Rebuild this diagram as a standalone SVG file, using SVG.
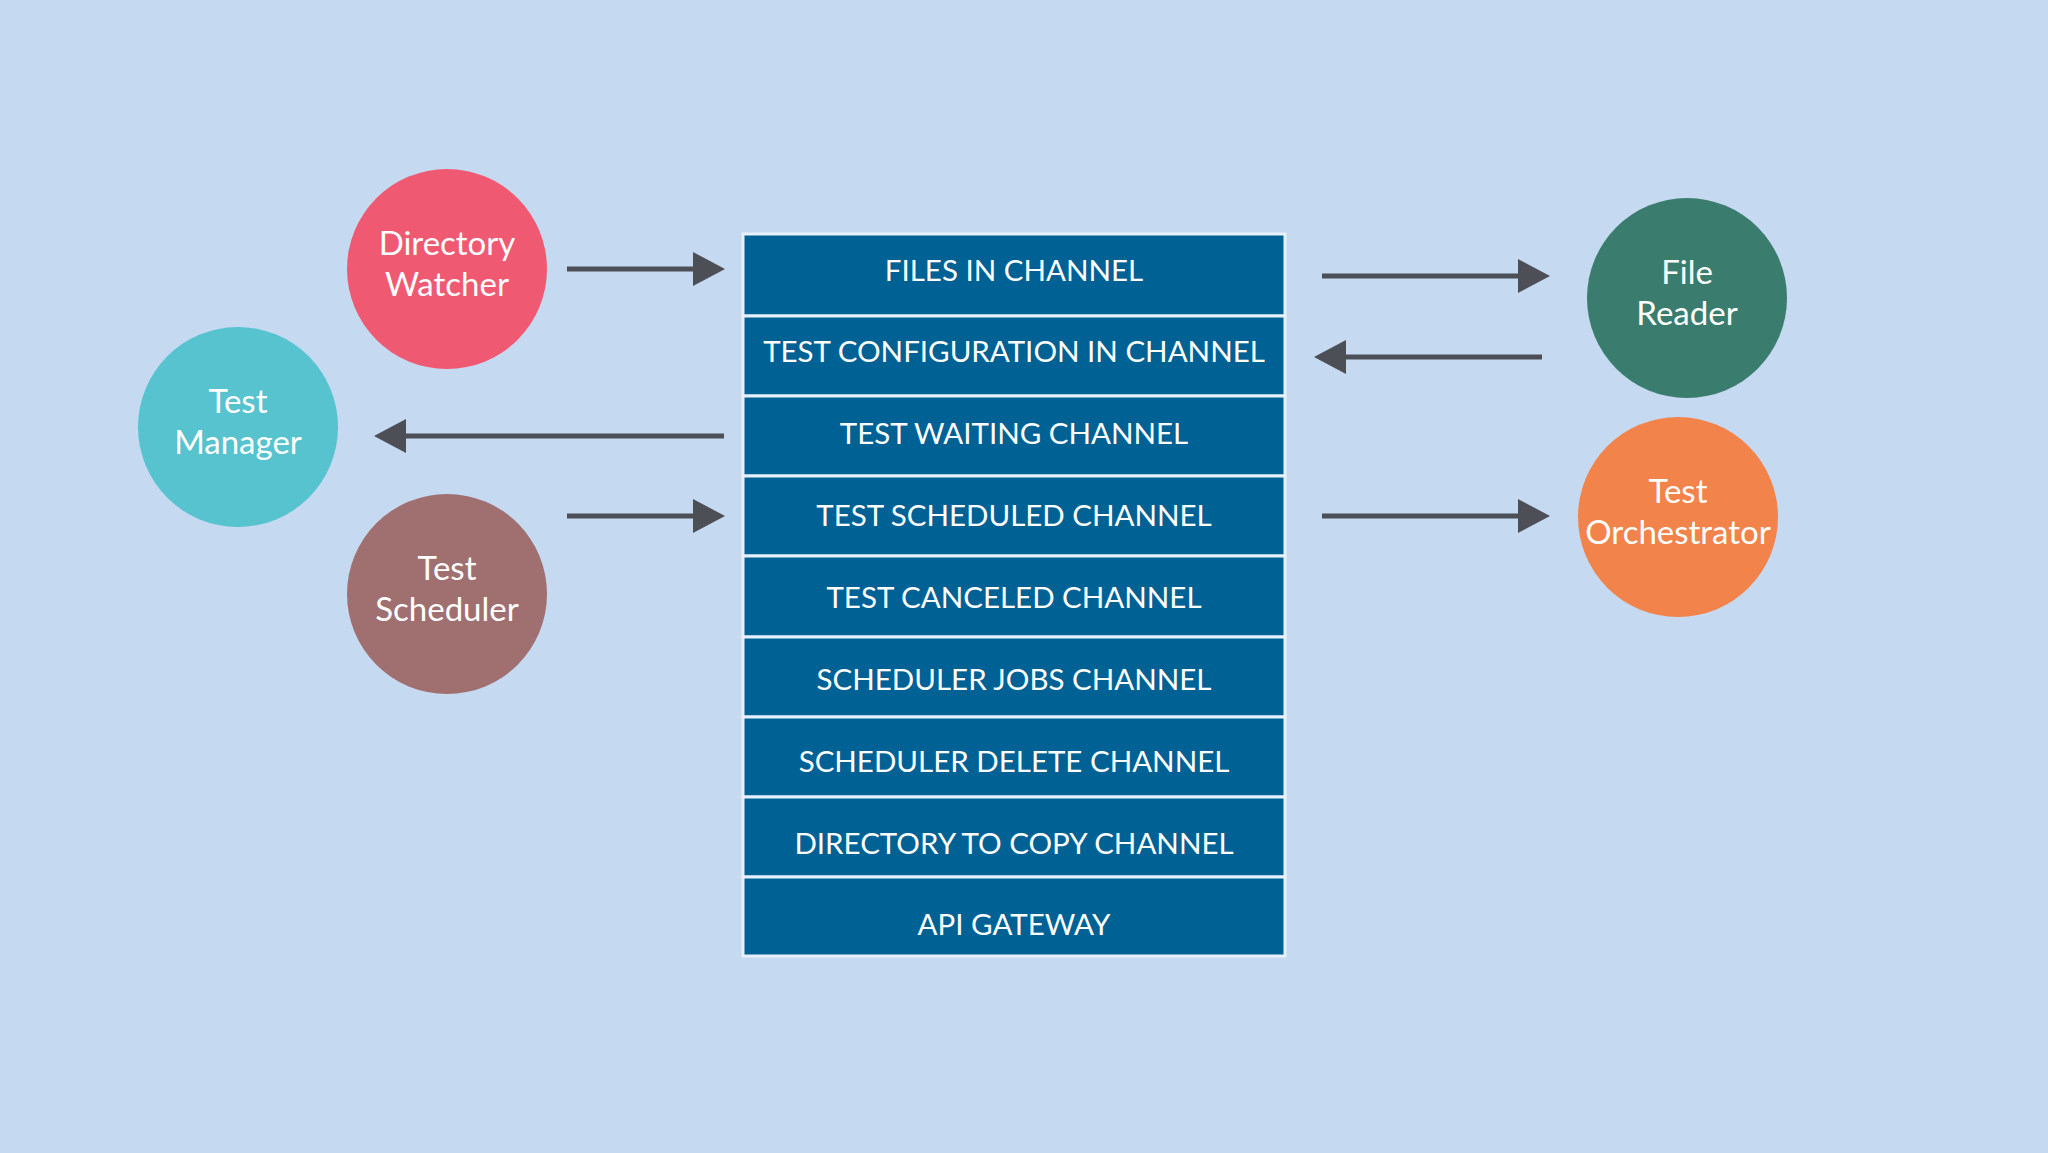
<svg xmlns="http://www.w3.org/2000/svg" width="2048" height="1153" viewBox="0 0 2048 1153">
<defs>
<style>
.row{fill:#006195;stroke:#e8f0fa;stroke-width:3}
.rt{font-family:Lato,"Open Sans",sans-serif;font-size:29.5px;fill:#fff;text-anchor:middle}
.ct{font-family:Lato,"Open Sans",sans-serif;font-size:33px;fill:#fff;text-anchor:middle}
.ar{stroke:#4d4f57;stroke-width:5;fill:none}
.hd{fill:#4d4f57}
</style>
</defs>
<rect width="2048" height="1153" fill="#c5d9f1"/>
<g id="channels">
<rect class="row" x="743" y="234" width="542" height="82"/><text class="rt" x="1014" y="281">FILES IN CHANNEL</text>
<rect class="row" x="743" y="316" width="542" height="80"/><text class="rt" x="1014" y="362">TEST CONFIGURATION IN CHANNEL</text>
<rect class="row" x="743" y="396" width="542" height="80"/><text class="rt" x="1014" y="444">TEST WAITING CHANNEL</text>
<rect class="row" x="743" y="476" width="542" height="80"/><text class="rt" x="1014" y="526">TEST SCHEDULED CHANNEL</text>
<rect class="row" x="743" y="556" width="542" height="81"/><text class="rt" x="1014" y="608">TEST CANCELED CHANNEL</text>
<rect class="row" x="743" y="637" width="542" height="80"/><text class="rt" x="1014" y="690">SCHEDULER JOBS CHANNEL</text>
<rect class="row" x="743" y="717" width="542" height="80"/><text class="rt" x="1014" y="772">SCHEDULER DELETE CHANNEL</text>
<rect class="row" x="743" y="797" width="542" height="80"/><text class="rt" x="1014" y="854">DIRECTORY TO COPY CHANNEL</text>
<rect class="row" x="743" y="877" width="542" height="79"/><text class="rt" x="1014" y="935">API GATEWAY</text>
</g>
<g id="directory-watcher"><circle cx="447" cy="269" r="100" fill="#ef5a72"/><text class="ct" x="447" y="255">Directory</text><text class="ct" x="447" y="296">Watcher</text></g>
<g id="test-manager"><circle cx="238" cy="427" r="100" fill="#56c3cf"/><text class="ct" x="238" y="413">Test</text><text class="ct" x="238" y="454">Manager</text></g>
<g id="test-scheduler"><circle cx="447" cy="594" r="100" fill="#a07070"/><text class="ct" x="447" y="580">Test</text><text class="ct" x="447" y="621">Scheduler</text></g>
<g id="file-reader"><circle cx="1687" cy="298" r="100" fill="#3a7d6e"/><text class="ct" x="1687" y="284">File</text><text class="ct" x="1687" y="325">Reader</text></g>
<g id="test-orchestrator"><circle cx="1678" cy="517" r="100" fill="#f2834a"/><text class="ct" x="1678" y="503">Test</text><text class="ct" x="1678" y="544">Orchestrator</text></g>
<g id="connectors">
<line class="ar" x1="567" y1="269" x2="695" y2="269"/><path class="hd" d="M693,252 L725,269 L693,286 z"/>
<line class="ar" x1="724" y1="436" x2="404" y2="436"/><path class="hd" d="M406,419 L374,436 L406,453 z"/>
<line class="ar" x1="567" y1="516" x2="695" y2="516"/><path class="hd" d="M693,499 L725,516 L693,533 z"/>
<line class="ar" x1="1322" y1="276" x2="1520" y2="276"/><path class="hd" d="M1518,259 L1550,276 L1518,293 z"/>
<line class="ar" x1="1542" y1="357" x2="1344" y2="357"/><path class="hd" d="M1346,340 L1314,357 L1346,374 z"/>
<line class="ar" x1="1322" y1="516" x2="1520" y2="516"/><path class="hd" d="M1518,499 L1550,516 L1518,533 z"/>
</g>
</svg>
